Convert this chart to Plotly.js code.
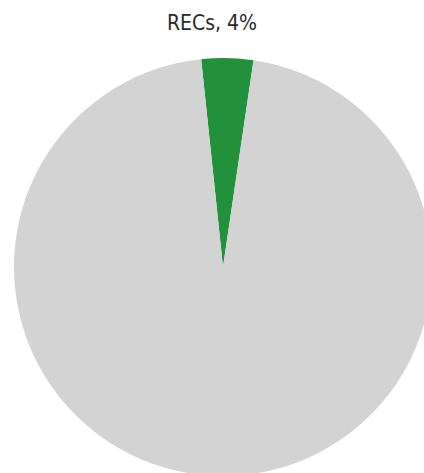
<!DOCTYPE html>
<html>
<head>
<meta charset="utf-8">
<script src="https://cdn.plot.ly/plotly-3.0.1.min.js"></script>
<style>
html, body { margin: 0; padding: 0; overflow: hidden; background: #fff; width: 424px; height: 473px; }
#chart { width: 440px; height: 480px; }
#chart .gtitle { font-stretch: condensed; }
</style>
</head>
<body>
<div id="chart"></div>
<script>
var labels = ["RECs", "Other"];
var shares = [4, 96];
var sliceColors = ["#23913b", "#d3d3d3"];
var titleText = "RECs, 4%";

var data = [{
  type: "pie",
  labels: labels,
  values: shares,
  sort: false,
  direction: "clockwise",
  rotation: -6,
  textinfo: "none",
  hoverinfo: "label+percent",
  marker: { colors: sliceColors, line: { width: 0 } },
  showlegend: false
}];

var layout = {
  width: 440,
  height: 480,
  margin: { l: 14, r: 8, t: 58, b: 4, pad: 0 },
  paper_bgcolor: "#ffffff",
  showlegend: false,
  title: {
    text: titleText,
    x: 212 / 440,
    xref: "container",
    xanchor: "center",
    y: 1 - 23 / 480,
    yref: "container",
    yanchor: "middle",
    font: { family: "DejaVu Sans", size: 21, color: "#2a2a2a" }
  }
};

Plotly.newPlot("chart", data, layout, { displayModeBar: false, staticPlot: true });
</script>
</body>
</html>
